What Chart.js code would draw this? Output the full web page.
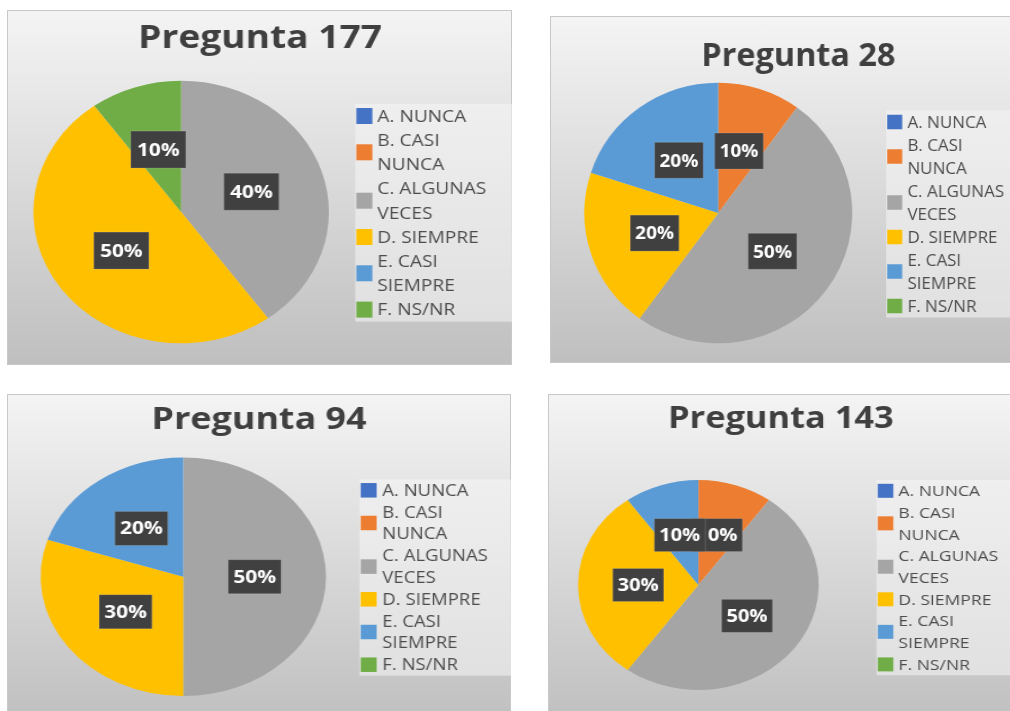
<!DOCTYPE html>
<html lang="es">
<head>
  <meta charset="UTF-8">
  <title>Preguntas</title>
  <script src="https://cdn.jsdelivr.net/npm/chart.js"></script>
  <style>
    html, body {
      margin: 0;
      padding: 0;
      background: white;
      width: 1010px;
      height: 711px;
      overflow: hidden;
      font-family: 'Open Sans', sans-serif;
    }
    .panel {
      position: absolute;
      overflow: hidden;
      background: linear-gradient(#f4f4f4, #bfbfbf);
      box-shadow: inset 0 0 0 1px #c8c8c8;
    }
    .inner {
      position: absolute;
      left: 0; top: 0;
      transform-origin: 0 0;
    }
  </style>
</head>
<body>
  <div class="panel" id="p1"><div class="inner"><canvas></canvas></div></div>
  <div class="panel" id="p2"><div class="inner"><canvas></canvas></div></div>
  <div class="panel" id="p3"><div class="inner"><canvas></canvas></div></div>
  <div class="panel" id="p4"><div class="inner"><canvas></canvas></div></div>

  <script>
    // categories shared by all four charts
    const categories = ['A. NUNCA', 'B. CASI NUNCA', 'C. ALGUNAS VECES', 'D. SIEMPRE', 'E. CASI SIEMPRE', 'F. NS/NR'];
    const colors = ['#4472C4', '#ED7D31', '#A5A5A5', '#FFC000', '#5B9BD5', '#70AD47'];

    // percentages per question
    const q177 = [0, 0, 40, 50, 0, 10];
    const q28  = [0, 10, 50, 20, 20, 0];
    const q94  = [0, 0, 50, 30, 20, 0];
    const q143 = [0, 10, 50, 30, 10, 0];

    // layout of each panel (box = display rect, rest in local unstretched px)
    const panels = [
      { id: 'p1', title: 'Pregunta 177', values: q177, box: [7, 10, 505, 355], sx: 1.123,
        cx: 154.7, cy: 202, r: 131.3, titleX: 224.8, titleY: 38, titleSize: 33,
        sqX: 310.4, sqW: 14.2, sqH: 16, textX: 329, legY: 106, lineH: 24.2, legSize: 17,
        labSize: 18.5, labW: 49, labH: 37 },
      { id: 'p2', title: 'Pregunta 28', values: q28, box: [550, 16, 470, 347], sx: 1.028,
        cx: 163.7, cy: 197, r: 130.3, titleX: 241.6, titleY: 50, titleSize: 31.5,
        sqX: 328, sqW: 14.6, sqH: 14.5, textX: 347.7, legY: 106, lineH: 23, legSize: 16.5,
        labSize: 18.5, labW: 47.4, labH: 36 },
      { id: 'p3', title: 'Pregunta 94', values: q94, box: [7, 394, 504, 330], sx: 1.196,
        cx: 147.4, cy: 182.7, r: 119.3, titleX: 210.7, titleY: 35, titleSize: 30,
        sqX: 295.7, sqW: 13.4, sqH: 14.5, textX: 313.8, legY: 96.3, lineH: 21.8, legSize: 15.5,
        labSize: 17.5, labW: 44.3, labH: 34 },
      { id: 'p4', title: 'Pregunta 143', values: q143, box: [548, 394, 470, 330], sx: 1.146,
        cx: 131.2, cy: 191, r: 105, titleX: 203.2, titleY: 34.3, titleSize: 30,
        sqX: 287.7, sqW: 13.6, sqH: 14, textX: 305.8, legY: 96.8, lineH: 21.7, legSize: 15.3,
        labSize: 17.5, labW: 44.5, labH: 33 }
    ];

    // "B. CASI NUNCA" -> ["B. CASI", "NUNCA"]
    function wrapLabel(s) {
      const words = s.split(' ');
      if (words.length <= 2) return [s];
      return [words.slice(0, -1).join(' '), words[words.length - 1]];
    }

    const decor = {
      id: 'decor',
      afterDatasetsDraw(chart) {
        const p = chart.options.plugins.decor;
        const ctx = chart.ctx;
        const meta = chart.getDatasetMeta(0);
        const vals = chart.data.datasets[0].data;
        ctx.save();
        ctx.font = `bold ${p.labSize}px 'Open Sans'`;
        ctx.textAlign = 'center';
        ctx.textBaseline = 'middle';
        meta.data.forEach((arc, i) => {
          if (!vals[i]) return;
          const pos = arc.tooltipPosition();
          ctx.fillStyle = '#404040';
          ctx.fillRect(pos.x - p.labW / 2, pos.y - p.labH / 2, p.labW, p.labH);
          ctx.strokeStyle = 'rgba(255,255,255,0.15)';
          ctx.lineWidth = 1;
          ctx.strokeRect(pos.x - p.labW / 2, pos.y - p.labH / 2, p.labW, p.labH);
          ctx.fillStyle = '#ffffff';
          ctx.fillText(vals[i] + '%', pos.x, pos.y + 1);
        });
        ctx.restore();
      },
      afterDraw(chart) {
        const p = chart.options.plugins.decor;
        const ctx = chart.ctx;
        ctx.save();
        // title
        ctx.fillStyle = '#3f3f3f';
        ctx.font = `bold ${p.titleSize}px 'Open Sans'`;
        ctx.textAlign = 'center';
        ctx.textBaseline = 'alphabetic';
        ctx.fillText(p.title, p.titleX, p.titleY);

        // legend
        let nLines = 0;
        const items = chart.data.labels.map(l => wrapLabel(l));
        items.forEach(it => nLines += it.length);
        const top = p.legY - p.lineH / 2;
        ctx.fillStyle = 'rgba(246,246,246,0.55)';
        ctx.fillRect(p.sqX - 1, top, chart.width - p.sqX + 1, nLines * p.lineH);

        ctx.font = `${p.legSize}px 'Open Sans'`;
        ctx.textAlign = 'left';
        ctx.textBaseline = 'middle';
        let line = 0;
        const bg = chart.data.datasets[0].backgroundColor;
        items.forEach((lines, i) => {
          const yMid = p.legY + (line + (lines.length - 1) / 2) * p.lineH;
          ctx.fillStyle = bg[i];
          ctx.fillRect(p.sqX, yMid - p.sqH / 2, p.sqW, p.sqH);
          ctx.fillStyle = '#4d4d4d';
          lines.forEach((t, k) => {
            ctx.fillText(t, p.textX, p.legY + (line + k) * p.lineH + 1);
          });
          line += lines.length;
        });
        ctx.restore();
      }
    };

    panels.forEach(p => {
      const el = document.getElementById(p.id);
      const [left, top, w, h] = p.box;
      el.style.left = left + 'px';
      el.style.top = top + 'px';
      el.style.width = w + 'px';
      el.style.height = h + 'px';
      const inner = el.querySelector('.inner');
      const W = w / p.sx;
      inner.style.width = W + 'px';
      inner.style.height = h + 'px';
      inner.style.transform = `scaleX(${p.sx})`;

      new Chart(inner.querySelector('canvas'), {
        type: 'pie',
        data: {
          labels: categories,
          datasets: [{
            data: p.values,
            backgroundColor: colors,
            borderWidth: 0,
            hoverOffset: 0,
            offset: 0
          }]
        },
        options: {
          responsive: true,
          maintainAspectRatio: false,
          animation: false,
          layout: {
            padding: {
              left: p.cx - p.r,
              top: p.cy - p.r,
              right: W - p.cx - p.r,
              bottom: h - p.cy - p.r
            }
          },
          plugins: {
            legend: { display: false },
            tooltip: { enabled: false },
            decor: p
          }
        },
        plugins: [decor]
      });
    });
  </script>
</body>
</html>
